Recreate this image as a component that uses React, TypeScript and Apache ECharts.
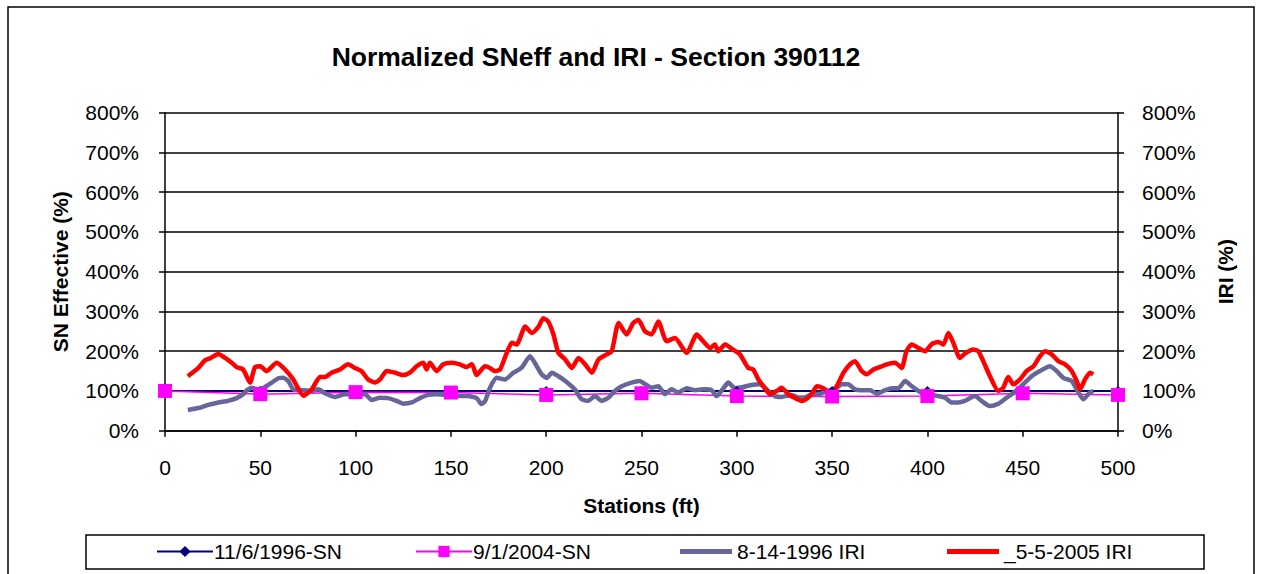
import React, { useEffect, useRef } from "react";
import * as echarts from "echarts";

const FONT = '"Liberation Sans", Arial, sans-serif';

const titleText = "Normalized SNeff and IRI - Section 390112";
const xAxisName = "Stations (ft)";
const leftAxisName = "SN Effective (%)";
const rightAxisName = "IRI (%)";

const seriesNames = ["11/6/1996-SN", "9/1/2004-SN", "8-14-1996 IRI", "_5-5-2005 IRI"];

const snStations = [0, 50, 100, 150, 200, 250, 300, 350, 400, 450, 500];
const sn1996 = [100, 100, 100, 100, 100, 100, 100, 100, 100, 100, 100];
const sn2004 = [100, 92, 97, 96, 90, 94, 87, 86, 87, 94, 90];

const iri1996Stations = [
  12, 17.5, 22.7, 28, 33, 37.6, 41, 43, 45.5, 49, 52.5, 56, 59.5, 62, 64.7, 67.3, 71.7, 77, 80.4, 84,
  89, 94.4, 99.6, 105, 108.4, 112.8, 117, 121.5, 125, 129.4, 133.7, 138, 142.5, 147, 150.4, 154.7, 159, 163.5, 166, 168,
  170.5, 174, 178.4, 182.8, 187, 191.5, 194, 197.6, 200.3, 203, 206.4, 210, 215, 218.6, 222, 225.6, 229, 232.6, 236, 239.6,
  244.8, 249, 252, 255.3, 258.8, 262.3, 265.8, 269.3, 273.7, 278, 282.4, 286.8, 289.4, 293, 295.5, 299, 303.4, 307.8, 312, 315.6,
  320, 323.5, 328.8, 332.3, 336, 339.3, 343.7, 348, 352.4, 355, 358.5, 362, 365.5, 370, 373.4, 377.8, 381.3, 384.8, 388.3, 391.8,
  395.3, 398.8, 402.3, 405.8, 409.3, 412.8, 416.2, 419.7, 424.9, 428.4, 432.8, 437.2, 441.6, 446, 450.3, 454.7, 459, 464.3, 467.8, 471.3,
  475.7, 478.3, 481.8, 485.3, 487
];
const iri1996Values = [
  52, 57, 65, 71, 75, 82, 92, 102, 108, 104, 110, 121, 132, 133, 125, 104, 102, 100, 104, 94,
  85, 92, 92, 92, 77, 83, 82, 75, 68, 71, 82, 90, 92, 90, 92, 87, 87, 82, 67, 75,
  108, 133, 129, 146, 158, 187, 171, 142, 133, 146, 137, 125, 104, 79, 75, 87, 75, 83, 100, 112,
  121, 125, 117, 108, 112, 92, 104, 96, 107, 102, 104, 102, 87, 107, 121, 107, 110, 115, 117, 104,
  87, 85, 90, 83, 84, 92, 93, 100, 107, 117, 117, 104, 102, 102, 93, 102, 107, 107, 125, 112,
  100, 92, 90, 87, 83, 71, 71, 75, 87, 75, 62, 68, 83, 98, 117, 137, 150, 162, 150, 133,
  125, 104, 79, 96, 100
];

const iri2005Stations = [
  12, 17.5, 21, 23.6, 28, 31.5, 35, 37.6, 41, 44.6, 47.2, 50, 53.3, 58.6, 63, 67.3, 72.6, 77, 81.3, 84,
  87.4, 91.8, 96, 99.6, 103, 106.6, 110, 112.8, 116.3, 120.6, 125, 128.5, 132, 135.5, 137.2, 139, 142.5, 146, 150.4, 154.7,
  158.2, 161, 163.5, 167.9, 170.5, 173, 175.8, 179.3, 182, 184.5, 189, 192.4, 196, 198.5, 201, 203.8, 206.4, 210, 213.4, 217,
  220.4, 224, 227.4, 231.7, 234.4, 238, 242.2, 245.7, 248.3, 251.8, 255.3, 258.8, 263.2, 267.5, 273.7, 279, 282.4, 286, 288.5, 290.3,
  293.8, 298, 301.6, 304.3, 306, 308.6, 311.3, 314, 317.4, 321, 323.5, 327, 330.5, 334, 336, 339.3, 342, 345.4, 349, 352.4,
  356, 359.4, 362, 365.5, 368.2, 371.7, 376, 379.5, 383, 386.5, 389, 391.8, 395.3, 398.8, 402.3, 405.8, 408.4, 411, 413.6, 417,
  419.7, 424, 426.7, 429.3, 432.8, 437.2, 439.8, 442.4, 445, 448.6, 452, 455.6, 459, 461.7, 465.2, 468.7, 472.2, 475.7, 478.3, 480,
  482.7, 485.3, 487
];
const iri2005Values = [
  137, 158, 177, 182, 193, 183, 171, 160, 154, 121, 160, 162, 150, 171, 154, 129, 88, 104, 135, 135,
  146, 154, 167, 158, 150, 129, 121, 129, 150, 146, 140, 146, 162, 171, 154, 171, 150, 167, 171, 167,
  160, 167, 140, 162, 158, 150, 154, 196, 221, 217, 262, 246, 262, 283, 275, 242, 196, 179, 158, 183,
  167, 146, 179, 192, 200, 271, 242, 271, 279, 250, 242, 275, 225, 233, 196, 242, 225, 208, 217, 200,
  217, 204, 192, 171, 158, 154, 129, 112, 92, 100, 108, 92, 82, 75, 78, 92, 112, 107, 96, 112,
  146, 167, 175, 150, 142, 154, 162, 168, 171, 158, 200, 217, 208, 200, 218, 223, 217, 246, 221, 183,
  194, 204, 200, 175, 137, 100, 108, 135, 117, 129, 150, 162, 187, 200, 192, 175, 167, 150, 125, 104,
  129, 146, 142
];

const zip = (xs: number[], ys: number[]) => xs.map((x, i) => [x, ys[i]]);

const NAVY = "#000080";
const MAGENTA = "#FF00FF";
const GRAY = "#666699";
const RED = "#FF0000";

export default function App() {
  const ref = useRef<HTMLDivElement>(null);
  useEffect(() => {
    if (!ref.current) return;
    const chart = echarts.init(ref.current, null, { renderer: "svg" });
    const axisLine = { show: true, lineStyle: { color: "#000", width: 1.5 } };
    const axisTick = { show: true, inside: false, length: 6, lineStyle: { color: "#000", width: 1.5 } };
    const yLabel = { fontSize: 21, color: "#000", fontFamily: FONT, formatter: "{value}%" };
    const nameStyle = { fontSize: 21, fontWeight: "bold", color: "#000", fontFamily: FONT };
    const legendText = { fontSize: 21, color: "#000", fontFamily: FONT, padding: [0, 0, 0, -4] };
    const legendBase = {
      top: 541,
      padding: 0,
      itemWidth: 56,
      itemHeight: 14,
      itemGap: 0,
      textStyle: legendText,
    };
    const barLegend = {
      top: 541,
      padding: 0,
      itemWidth: 52,
      itemHeight: 5,
      itemGap: 0,
      textStyle: { ...legendText, padding: [0, 0, 0, 0] },
    };
    chart.setOption({
      animation: false,
      backgroundColor: "#fff",
      textStyle: { fontFamily: FONT },
      grid: { left: 165, right: 146, top: 112.7, bottom: 143.3 },
      xAxis: {
        type: "value",
        min: 0,
        max: 500,
        interval: 50,
        name: xAxisName,
        nameLocation: "middle",
        nameGap: 64,
        nameTextStyle: nameStyle,
        axisLine,
        axisTick,
        splitLine: { show: false },
        axisLabel: { fontSize: 21, color: "#000", fontFamily: FONT, margin: 26 },
      },
      yAxis: [
        {
          type: "value",
          min: 0,
          max: 800,
          interval: 100,
          position: "left",
          name: leftAxisName,
          nameLocation: "middle",
          nameRotate: 90,
          nameGap: 94,
          nameTextStyle: nameStyle,
          axisLine,
          axisTick,
          axisLabel: { ...yLabel, margin: 26 },
          splitLine: { show: true, lineStyle: { color: "#000", width: 1.5 } },
        },
        {
          type: "value",
          min: 0,
          max: 800,
          interval: 100,
          position: "right",
          name: rightAxisName,
          nameLocation: "middle",
          nameRotate: 90,
          nameGap: 97,
          nameTextStyle: nameStyle,
          axisLine,
          axisTick,
          axisLabel: { ...yLabel, margin: 24 },
          splitLine: { show: false },
        },
      ],
      legend: [
        { ...legendBase, left: 156, data: [seriesNames[0]] },
        { ...legendBase, left: 415, data: [seriesNames[1]] },
        { ...barLegend, left: 680, data: [{ name: seriesNames[2], icon: "rect" }] },
        { ...barLegend, left: 947, data: [{ name: seriesNames[3], icon: "rect" }] },
      ],
      graphic: [
        {
          type: "rect",
          shape: { x: 8, y: 7, width: 1246, height: 600 },
          style: { fill: "none", stroke: "#000", lineWidth: 1.5 },
          silent: true,
        },
        {
          type: "rect",
          shape: { x: 86, y: 535, width: 1118, height: 34 },
          style: { fill: "none", stroke: "#000", lineWidth: 1.5 },
          silent: true,
        },
        {
          type: "text",
          x: 596,
          y: 57,
          style: {
            text: titleText,
            fontSize: 26.5,
            fontWeight: "bold",
            fontFamily: FONT,
            fill: "#000",
            textAlign: "center",
            textVerticalAlign: "middle",
          },
          silent: true,
        },
      ],
      series: [
        {
          name: seriesNames[0],
          type: "line",
          yAxisIndex: 0,
          data: zip(snStations, sn1996),
          symbol: "diamond",
          symbolSize: 10,
          itemStyle: { color: NAVY },
          lineStyle: { color: NAVY, width: 2 },
        },
        {
          name: seriesNames[1],
          type: "line",
          yAxisIndex: 0,
          data: zip(snStations, sn2004),
          symbol: "rect",
          symbolSize: 14,
          itemStyle: { color: MAGENTA },
          lineStyle: { color: MAGENTA, width: 1.5 },
        },
        {
          name: seriesNames[2],
          type: "line",
          yAxisIndex: 1,
          data: zip(iri1996Stations, iri1996Values),
          symbol: "none",
          smooth: 0.2,
          itemStyle: { color: GRAY },
          lineStyle: { color: GRAY, width: 4.5 },
        },
        {
          name: seriesNames[3],
          type: "line",
          yAxisIndex: 1,
          data: zip(iri2005Stations, iri2005Values),
          symbol: "none",
          smooth: 0.2,
          itemStyle: { color: RED },
          lineStyle: { color: RED, width: 4.5 },
        },
      ],
    });
    return () => chart.dispose();
  }, []);
  return (
    <div
      ref={ref}
      style={{ position: "absolute", left: 0, top: 0, width: 1264, height: 574, background: "#fff" }}
    />
  );
}
